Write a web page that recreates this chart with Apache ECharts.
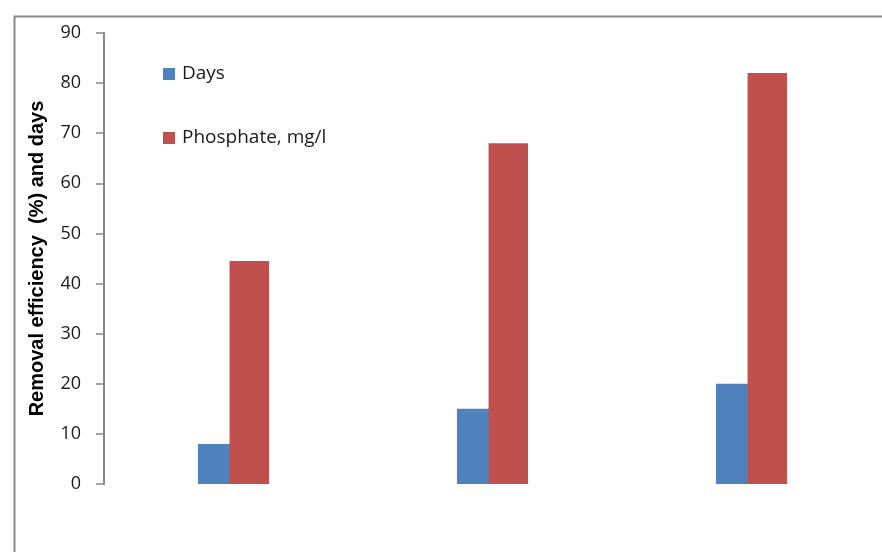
<!DOCTYPE html>
<html>
<head>
<meta charset="utf-8">
<script src="https://cdn.jsdelivr.net/npm/echarts@6/dist/echarts.min.js"></script>
<style>html,body{margin:0;padding:0;background:#fff}#c{width:882px;height:552px}</style>
</head>
<body>
<div id="c"></div>
<script>
var categories = ['A', 'B', 'C'];
var days = [8, 15, 20];
var phosphate = [44.5, 68, 82];
var yTicks = [0, 10, 20, 30, 40, 50, 60, 70, 80, 90];
var seriesNames = ['Days', 'Phosphate, mg/l'];
var yTitle = 'Removal efficiency  (%) and days';

var chart = echarts.init(document.getElementById('c'), null, {renderer: 'canvas'});
var font = '"Open Sans", "Noto Sans", sans-serif';
chart.setOption({
  animation: false,
  backgroundColor: '#fff',
  graphic: [{
    type: 'rect', left: 12, top: 14, z: -1,
    shape: {width: 900, height: 600},
    style: {fill: 'none', stroke: '#898989', lineWidth: 2}
  }],
  legend: {
    orient: 'vertical', left: 163, top: 64, padding: 0,
    itemWidth: 12, itemHeight: 12, itemGap: 44,
    icon: 'rect',
    textStyle: {fontFamily: font, fontSize: 19, lineHeight: 20, color: '#1a1a1a', padding: [0, 0, 0, 2]},
    data: seriesNames
  },
  grid: {left: 104, right: 1, top: 33, bottom: 68, containLabel: false},
  xAxis: {
    type: 'category', data: categories,
    axisLine: {show: false}, axisTick: {show: false}, axisLabel: {show: false},
    splitLine: {show: false}
  },
  yAxis: {
    type: 'value', min: yTicks[0], max: yTicks[yTicks.length - 1], interval: 10,
    name: yTitle, nameLocation: 'middle', nameRotate: 90, nameGap: 57,
    nameTextStyle: {fontFamily: '"Liberation Sans", Arial, sans-serif', fontSize: 20, fontWeight: 'bold', color: '#000'},
    axisLine: {show: true, lineStyle: {color: '#868686', width: 2}},
    axisTick: {show: true, inside: false, length: 8, lineStyle: {color: '#868686', width: 1.5}},
    axisLabel: {fontFamily: font, fontSize: 18, color: '#1a1a1a', margin: 23},
    splitLine: {show: false}
  },
  series: [{
    name: seriesNames[0], type: 'bar', data: days,
    barWidth: 39.5, barGap: '-20%',
    itemStyle: {color: '#4F81BD'}
  }, {
    name: seriesNames[1], type: 'bar', data: phosphate,
    barWidth: 39.5,
    itemStyle: {color: '#C0504D'}
  }]
});
</script>
</body>
</html>
